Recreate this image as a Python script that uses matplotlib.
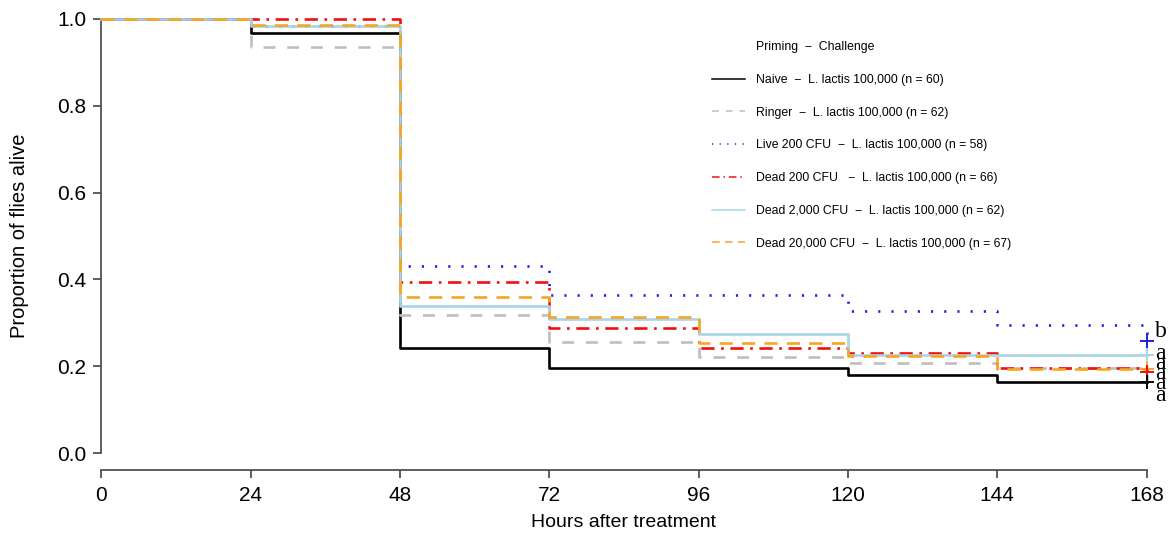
import numpy as np
import matplotlib.pyplot as plt

# Kaplan-Meier style survival steps
hours = [0, 24, 48, 72, 96, 120, 144, 168]
naive = [1.0, 0.967, 0.243, 0.195, 0.195, 0.179, 0.163, 0.163]
ringer = [1.0, 0.936, 0.318, 0.255, 0.222, 0.207, 0.195, 0.164]
live200 = [1.0, 0.983, 0.432, 0.363, 0.363, 0.328, 0.295, 0.258]
dead200 = [1.0, 1.0, 0.395, 0.289, 0.243, 0.230, 0.197, 0.187]
dead2000 = [1.0, 0.984, 0.339, 0.308, 0.274, 0.226, 0.226, 0.226]
dead20000 = [1.0, 0.985, 0.359, 0.313, 0.254, 0.224, 0.193, 0.193]

labels = ['Naive  \u2212  L. lactis 100,000 (n = 60)',
          'Ringer  \u2212  L. lactis 100,000 (n = 62)',
          'Live 200 CFU  \u2212  L. lactis 100,000 (n = 58)',
          'Dead 200 CFU   \u2212  L. lactis 100,000 (n = 66)',
          'Dead 2,000 CFU  \u2212  L. lactis 100,000 (n = 62)',
          'Dead 20,000 CFU  \u2212  L. lactis 100,000 (n = 67)']
letters = ['b', 'a', 'a', 'a', 'a', 'a']

plt.rcParams['font.family'] = ['Liberation Sans', 'DejaVu Sans']

fig = plt.figure(figsize=(11.72, 5.35), dpi=100)
ax = fig.add_axes([0.0865, 0.1207, 0.8918, 0.8763])

curves = [naive, ringer, live200, dead200, dead2000, dead20000]
colors = ['black', '#bebebe', '#1f1fe6', '#ee1111', '#a8d4e6', '#f5a623']
styles = ['-', (0, (4.5, 4.5)), (0, (0.8, 4.2)), (0, (5, 2.5, 1, 2.5)), '-', (0, (5, 3.5))]

for i in range(6):
    ax.step(hours, curves[i], where='post', color=colors[i],
            linestyle=styles[i], lw=1.9, clip_on=False, zorder=2 + i)

# censor marks at the end of follow-up
for i in [2, 5, 3, 1, 0, 4]:
    ax.plot(hours[-1], curves[i][-1], marker='+', ms=10, mew=1.4,
            color=colors[i], clip_on=False, zorder=10)

# significance letters (stacked tightly, as in the original)
letter_y = [0.2795, 0.2297, 0.2067, 0.1836, 0.1606, 0.1336]
for s, yy in zip(letters, letter_y):
    ax.text(169.3, yy, s, fontsize=17, family=['Liberation Serif'],
            va='center', ha='left', clip_on=False)

ax.set_xlim(0, 168)
ax.set_ylim(-0.04, 1.04)
ax.set_xticks(hours)
ax.set_yticks([0.0, 0.2, 0.4, 0.6, 0.8, 1.0])
ax.set_yticklabels(['0.0', '0.2', '0.4', '0.6', '0.8', '1.0'])
for side in ['top', 'right']:
    ax.spines[side].set_visible(False)
ax.spines['left'].set_bounds(0, 1)
ax.spines['bottom'].set_bounds(0, 168)
for side in ['left', 'bottom']:
    ax.spines[side].set_color('#444444')
    ax.spines[side].set_linewidth(1.2)
ax.tick_params(length=6, width=1.2, color='#444444', labelsize=15, pad=5)
ax.set_xlabel('Hours after treatment', fontsize=14, labelpad=7)
ax.set_ylabel('Proportion of flies alive', fontsize=14.5, labelpad=20)

# legend: header row as an invisible entry so it lines up with the labels
blank = plt.Line2D([], [], color='none')
leg_handles = [blank] + [plt.Line2D([], [], color=colors[i], linestyle=styles[i], lw=1.1)
                         for i in range(6)]
fig.legend(leg_handles, ['Priming  \u2212  Challenge'] + labels,
           loc='upper left', bbox_to_anchor=(712 / 1172, 1 - 41 / 535),
           frameon=False, fontsize=8.8, handlelength=2.7, handletextpad=0.9,
           labelspacing=1.7, borderpad=0, borderaxespad=0)

fig.savefig('out.png', dpi=100)
